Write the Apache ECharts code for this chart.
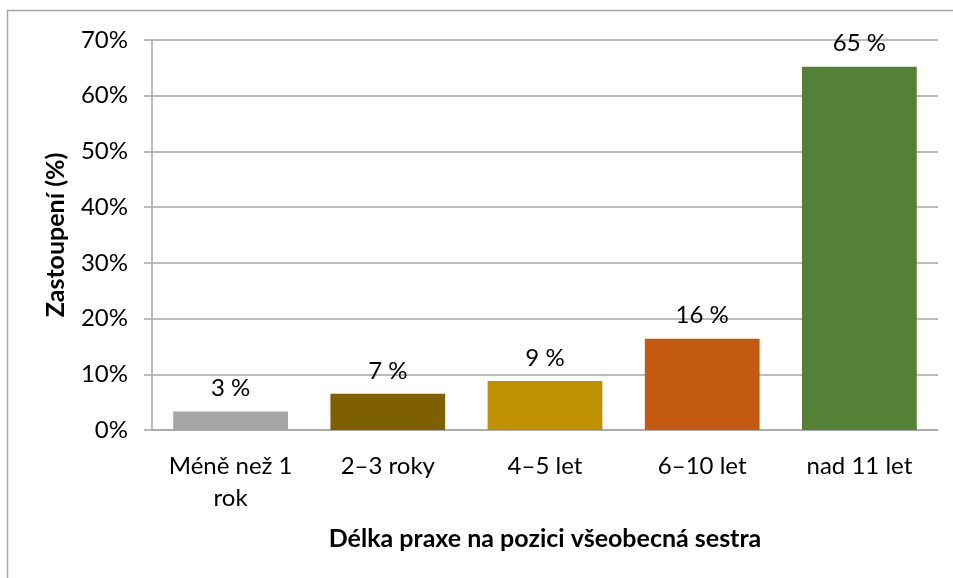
<!DOCTYPE html>
<html>
<head>
<meta charset="utf-8">
<script src="https://cdn.jsdelivr.net/npm/echarts@6/dist/echarts.min.js"></script>
<style>
html, body { margin: 0; padding: 0; background: #fff; }
#chart { width: 953px; height: 578px; }
</style>
</head>
<body>
<div id="chart"></div>
<script>
// data
const categories = ["Méně než 1\nrok", "2–3 roky", "4–5 let", "6–10 let", "nad 11 let"];
const values = [3.3, 6.5, 8.8, 16.4, 65.2];
const labels = ["3 %", "7 %", "9 %", "16 %", "65 %"];
const colors = ["#a5a5a5", "#7f6000", "#bf9000", "#c55a11", "#538135"];

const font = "Lato, 'Noto Sans', sans-serif";
const chart = echarts.init(document.getElementById("chart"));

chart.setOption({
    animation: false,
    textStyle: { fontFamily: font },
    graphic: [
        {
            type: "rect",
            shape: { x: 7.5, y: 10.5, width: 1200, height: 1200 },
            style: { fill: "none", stroke: "#a6a6a6", lineWidth: 1.5 },
        },
    ],
    grid: { left: 152, right: 15, top: 40, bottom: 148 },
    xAxis: {
        type: "category",
        data: categories,
        name: "Délka praxe na pozici všeobecná sestra",
        nameLocation: "middle",
        nameGap: 96,
        nameTextStyle: { fontSize: 25, fontWeight: "bold", color: "#000", fontFamily: font },
        axisLine: { lineStyle: { color: "#a6a6a6", width: 1.5 } },
        axisTick: { length: 8, lineStyle: { color: "#a6a6a6", width: 1.5 } },
        axisLabel: {
            interval: 0,
            hideOverlap: false,
            fontSize: 24,
            color: "#000",
            margin: 20,
            lineHeight: 32,
            fontFamily: font,
        },
    },
    yAxis: {
        type: "value",
        min: 0,
        max: 70,
        interval: 10,
        name: "Zastoupení (%)",
        nameLocation: "middle",
        nameGap: 84,
        nameTextStyle: { fontSize: 25, fontWeight: "bold", color: "#000", fontFamily: font },
        axisLine: { show: true, lineStyle: { color: "#a6a6a6", width: 1.5 } },
        axisTick: { show: true, length: 8, lineStyle: { color: "#a6a6a6", width: 1.5 } },
        axisLabel: { fontSize: 24, color: "#000", margin: 24, formatter: "{value}%", fontFamily: font },
        splitLine: { lineStyle: { color: "#a6a6a6", width: 1.5 } },
    },
    series: [
        {
            type: "bar",
            barWidth: "73%",
            data: values.map((v, i) => ({ value: v, itemStyle: { color: colors[i] } })),
            label: {
                show: true,
                position: "top",
                distance: 11,
                fontSize: 24,
                color: "#000",
                fontFamily: font,
                formatter: (p) => labels[p.dataIndex],
            },
        },
    ],
});
</script>
</body>
</html>
